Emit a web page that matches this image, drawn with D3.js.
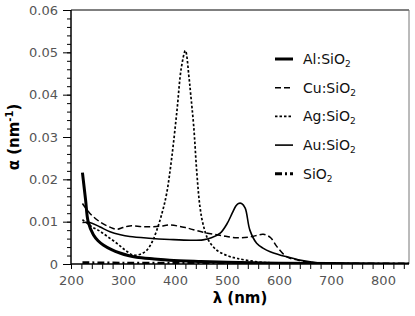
<!DOCTYPE html>
<html>
<head>
<meta charset="utf-8">
<script src="https://cdn.jsdelivr.net/npm/d3@7"></script>
<style>
  body { margin: 0; background: #fff; }
  svg { display: block; font-family: "DejaVu Sans", sans-serif; }
</style>
</head>
<body>
<div id="chart"></div>
<script>
// wavelength (nm) and absorption (nm^-1)
const alX = [222, 228, 233, 243, 252, 262, 278, 294, 310, 326, 360, 390, 450, 500, 550, 600, 700, 850];
const alY = [0.0216, 0.0152, 0.0100, 0.0069, 0.0055, 0.0045, 0.0034, 0.0026, 0.0020, 0.0016, 0.0012, 0.0009, 0.0006, 0.0004, 0.0003, 0.0002, 0.0001, 0.0000];

const cuX = [222, 236, 255, 275, 288, 300, 313, 340, 370, 390, 420, 454, 490, 519, 545, 570, 584, 596, 615, 637, 660, 690, 850];
const cuY = [0.0143, 0.0120, 0.0100, 0.0087, 0.0082, 0.0086, 0.0090, 0.0088, 0.0089, 0.0092, 0.0086, 0.0075, 0.0067, 0.0062, 0.0064, 0.0070, 0.0062, 0.0041, 0.0017, 0.0009, 0.0004, 0.0001, 0.0000];

const agX = [222, 240, 255, 270, 288, 304, 320, 335, 346, 356, 365, 375, 384, 394, 404, 412, 420, 427, 430, 436, 442, 448, 454, 464, 480, 500, 520, 560, 600, 850];
const agY = [0.0105, 0.0088, 0.0078, 0.0065, 0.0049, 0.0033, 0.0021, 0.0024, 0.0033, 0.0052, 0.0080, 0.0120, 0.0167, 0.0254, 0.0365, 0.0462, 0.0504, 0.0440, 0.0403, 0.0325, 0.0215, 0.0135, 0.0094, 0.0057, 0.0033, 0.0020, 0.0013, 0.0005, 0.0002, 0.0000];

const auX = [222, 236, 255, 275, 295, 313, 350, 390, 430, 454, 470, 487, 500, 510, 517, 522, 528, 535, 544, 557, 570, 583, 600, 615, 637, 660, 690, 850];
const auY = [0.0098, 0.0098, 0.0088, 0.0076, 0.0069, 0.0065, 0.0061, 0.0058, 0.0056, 0.0057, 0.0062, 0.0073, 0.0095, 0.0120, 0.0137, 0.0143, 0.0143, 0.0132, 0.0080, 0.0049, 0.0037, 0.0029, 0.0022, 0.0017, 0.0010, 0.0005, 0.0001, 0.0000];

const sioX = [222, 300, 400, 500, 600, 700, 850];
const sioY = [0.0003, 0.0002, 0.0002, 0.0001, 0.0001, 0.0000, 0.0000];

const seriesNames = ["Al:SiO", "Cu:SiO", "Ag:SiO", "Au:SiO", "SiO"];
const xTicks = [200, 300, 400, 500, 600, 700, 800];
const yTicks = [0, 0.01, 0.02, 0.03, 0.04, 0.05, 0.06];

const W = 415, H = 316;
const m = { left: 71, right: 6, top: 10, bottom: 52 };

const svg = d3.select("#chart").append("svg")
  .attr("width", W).attr("height", H);

const x = d3.scaleLinear().domain([200, 850]).range([m.left, W - m.right]);
const y = d3.scaleLinear().domain([0, 0.06]).range([H - m.bottom, m.top]);

svg.append("clipPath").attr("id", "clip")
  .append("rect")
  .attr("x", m.left).attr("y", m.top - 2)
  .attr("width", W - m.right - m.left).attr("height", H - m.bottom - m.top + 2);

// frame top + right
svg.append("line")
  .attr("x1", m.left).attr("x2", W - m.right)
  .attr("y1", m.top).attr("y2", m.top)
  .attr("stroke", "#000").attr("stroke-width", 1);
svg.append("line")
  .attr("x1", W - m.right).attr("x2", W - m.right)
  .attr("y1", m.top).attr("y2", H - m.bottom)
  .attr("stroke", "#777").attr("stroke-width", 1);

// minor ticks
const xMinor = d3.range(200, 851, 20);
const yMinor = d3.range(0, 0.0601, 0.002);

const xAxis = svg.append("g")
  .attr("transform", `translate(0,${H - m.bottom})`)
  .call(d3.axisBottom(x).tickValues(xMinor).tickSize(5).tickFormat(""));
xAxis.select(".domain").remove();
xAxis.selectAll("line").attr("stroke", "#000");

svg.append("g")
  .attr("transform", `translate(0,${H - m.bottom})`)
  .call(d3.axisBottom(x).tickValues(xTicks).tickSize(5).tickPadding(7).tickFormat(d3.format("d")))
  .call(g => g.select(".domain").remove())
  .call(g => g.selectAll("line").attr("stroke", "#000"))
  .call(g => g.selectAll("text").attr("fill", "#555").attr("font-size", 13)
    .attr("font-family", "DejaVu Sans, sans-serif"));

const yAxisMinor = svg.append("g")
  .attr("transform", `translate(${m.left},0)`)
  .call(d3.axisLeft(y).tickValues(yMinor).tickSize(4).tickFormat(""));
yAxisMinor.select(".domain").remove();
yAxisMinor.selectAll("line").attr("stroke", "#000");

svg.append("g")
  .attr("transform", `translate(${m.left},0)`)
  .call(d3.axisLeft(y).tickValues(yTicks).tickSize(8).tickPadding(5)
    .tickFormat(d => d === 0 ? "0" : d3.format(".2f")(d)))
  .call(g => g.select(".domain").remove())
  .call(g => g.selectAll("line").attr("stroke", "#000"))
  .call(g => g.selectAll("text").attr("fill", "#555").attr("font-size", 13)
    .attr("font-family", "DejaVu Sans, sans-serif"));

// axis lines
svg.append("line")
  .attr("x1", m.left).attr("x2", m.left)
  .attr("y1", m.top).attr("y2", H - m.bottom)
  .attr("stroke", "#000").attr("stroke-width", 1.5);
svg.append("line")
  .attr("x1", m.left).attr("x2", W - m.right)
  .attr("y1", H - m.bottom).attr("y2", H - m.bottom)
  .attr("stroke", "#000").attr("stroke-width", 1.5);

// curves
const styles = [
  { xs: alX, ys: alY, w: 3, dash: null },
  { xs: cuX, ys: cuY, w: 1.5, dash: "6,3" },
  { xs: agX, ys: agY, w: 1.7, dash: "2.5,2" },
  { xs: auX, ys: auY, w: 1.6, dash: null },
  { xs: sioX, ys: sioY, w: 3, dash: "7,3,2,3" }
];

const line = d3.line()
  .x(d => x(d[0])).y(d => y(d[1]))
  .curve(d3.curveCatmullRom.alpha(0.5));

const plot = svg.append("g").attr("clip-path", "url(#clip)");
styles.forEach(s => {
  const pts = s.xs.map((v, i) => [v, s.ys[i]]);
  plot.append("path")
    .attr("d", line(pts))
    .attr("fill", "none")
    .attr("stroke", "#000")
    .attr("stroke-width", s.w)
    .attr("stroke-dasharray", s.dash);
});

// legend
const leg = svg.append("g");
styles.forEach((s, i) => {
  const ly = 64 + i * 28.7;
  leg.append("line")
    .attr("x1", 275).attr("x2", 293)
    .attr("y1", ly - 5).attr("y2", ly - 5)
    .attr("stroke", "#000")
    .attr("stroke-width", s.w)
    .attr("stroke-dasharray", s.dash);
  const t = leg.append("text")
    .attr("x", 303).attr("y", ly)
    .attr("font-size", 14)
    .attr("fill", "#111");
  t.append("tspan").text(seriesNames[i]);
  t.append("tspan").attr("font-size", 9).attr("dy", 3).text("2");
});

// axis titles
svg.append("text")
  .attr("x", (m.left + W - m.right) / 2).attr("y", 303)
  .attr("text-anchor", "middle")
  .attr("font-size", 15).attr("font-weight", "bold")
  .text("λ (nm)");

const yt = svg.append("text")
  .attr("transform", `translate(19,${(m.top + H - m.bottom) / 2}) rotate(-90)`)
  .attr("text-anchor", "middle")
  .attr("font-size", 15).attr("font-weight", "bold");
yt.append("tspan").text("α (nm");
yt.append("tspan").attr("font-size", 10).attr("dy", -6).text("-1");
yt.append("tspan").attr("dy", 6).text(")");
</script>
</body>
</html>
